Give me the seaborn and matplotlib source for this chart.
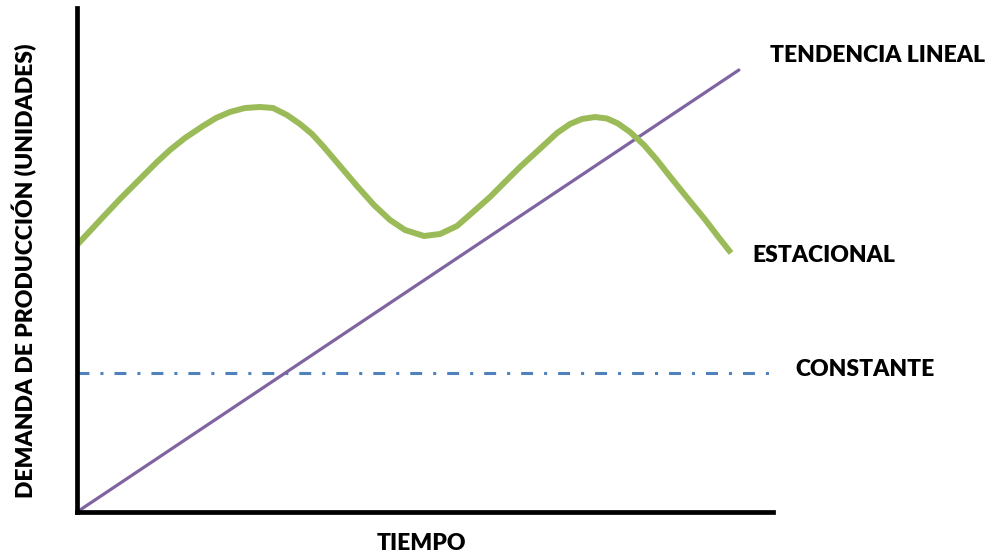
import matplotlib
matplotlib.use("Agg")
import matplotlib.pyplot as plt
import seaborn as sns
import pandas as pd

# ---- data (arbitrary units 0-100) ----
tiempo_estacional = [0, 1.87, 3.74, 6.18, 8.62, 11.49, 13.36, 15.52, 18.10, 19.97,
                     21.98, 24.14, 26.29, 28.16, 30.17, 32.04, 33.76, 35.34, 37.79, 40.23,
                     42.67, 44.97, 47.13, 49.86, 52.16, 54.60, 56.90, 59.34, 61.49, 63.65,
                     65.23, 66.95, 68.97, 70.83, 72.56, 74.43, 76.15, 77.73, 79.45, 81.47,
                     83.33, 85.20, 87.64, 90.23, 92.10, 93.97]
demanda_estacional = [52.98, 55.75, 58.53, 62.10, 65.48, 69.44, 71.83, 74.21, 76.59, 78.17,
                      79.37, 80.16, 80.36, 80.16, 78.77, 76.98, 75.00, 72.62, 68.65, 64.68,
                      60.91, 57.94, 55.95, 54.76, 55.16, 56.75, 59.52, 62.50, 65.48, 68.45,
                      70.44, 72.62, 75.20, 76.98, 77.98, 78.37, 78.07, 77.08, 75.40, 72.82,
                      69.84, 66.57, 62.40, 58.04, 54.66, 51.39]
tiempo_lineal = [0, 95.1]
demanda_lineal = [0, 87.7]
tiempo_constante = [0, 100.3]
demanda_constante = [27.6, 27.6]

etiquetas = {
    "lineal": "TENDENCIA LINEAL",
    "estacional": "ESTACIONAL",
    "constante": "CONSTANTE",
    "x": "TIEMPO",
    "y": "DEMANDA DE PRODUCCIÓN (UNIDADES)",
}

sns.set_theme(style="white")
plt.rcParams["font.family"] = ["Lato", "DejaVu Sans"]

fig = plt.figure(figsize=(9.9, 5.57), dpi=100)
ax = fig.add_axes([77 / 990, 45 / 557, 696 / 990, 504 / 557])

df_est = pd.DataFrame({"t": tiempo_estacional, "d": demanda_estacional})
df_lin = pd.DataFrame({"t": tiempo_lineal, "d": demanda_lineal})
df_con = pd.DataFrame({"t": tiempo_constante, "d": demanda_constante})

sns.lineplot(data=df_con, x="t", y="d", ax=ax, color="#4F81BD", linewidth=2.2,
             sort=False, estimator=None)
ln = ax.lines[-1]
ln.set_dashes([3.9, 3.6, 1.0, 3.6])
ln.set_dash_capstyle("butt")
ln.set_clip_on(False)

sns.lineplot(data=df_lin, x="t", y="d", ax=ax, color="#8064A2", linewidth=2.3,
             sort=False, estimator=None)
ax.lines[-1].set_clip_on(False)

sns.lineplot(data=df_est, x="t", y="d", ax=ax, color="#9BBB59", linewidth=4.3,
             sort=False, estimator=None)
ax.lines[-1].set_solid_joinstyle("round")
ax.lines[-1].set_solid_capstyle("butt")

ax.set_xlim(0, 100)
ax.set_ylim(0, 100)
ax.set_xticks([])
ax.set_yticks([])
ax.set_xlabel("")
ax.set_ylabel("")
for s in ["top", "right"]:
    ax.spines[s].set_visible(False)
for s in ["left", "bottom"]:
    ax.spines[s].set_color("black")
    ax.spines[s].set_linewidth(3.4)
    ax.spines[s].set_capstyle("projecting")

fs = 16.5
kw = dict(fontsize=fs, fontweight="heavy", color="black")
fig.text(770 / 990, 1 - 56 / 557, etiquetas["lineal"], ha="left", va="center", **kw)
fig.text(752 / 990, 1 - 256 / 557, etiquetas["estacional"], ha="left", va="center", **kw)
fig.text(795 / 990, 1 - 370 / 557, etiquetas["constante"], ha="left", va="center", **kw)
fig.text(421 / 990, 1 - 543 / 557, etiquetas["x"], ha="center", va="center", **kw)
fig.text(25 / 990, 1 - 271 / 557, etiquetas["y"], ha="center", va="center",
         rotation=90, **kw)

fig.savefig("out.png", dpi=100, facecolor="white")
